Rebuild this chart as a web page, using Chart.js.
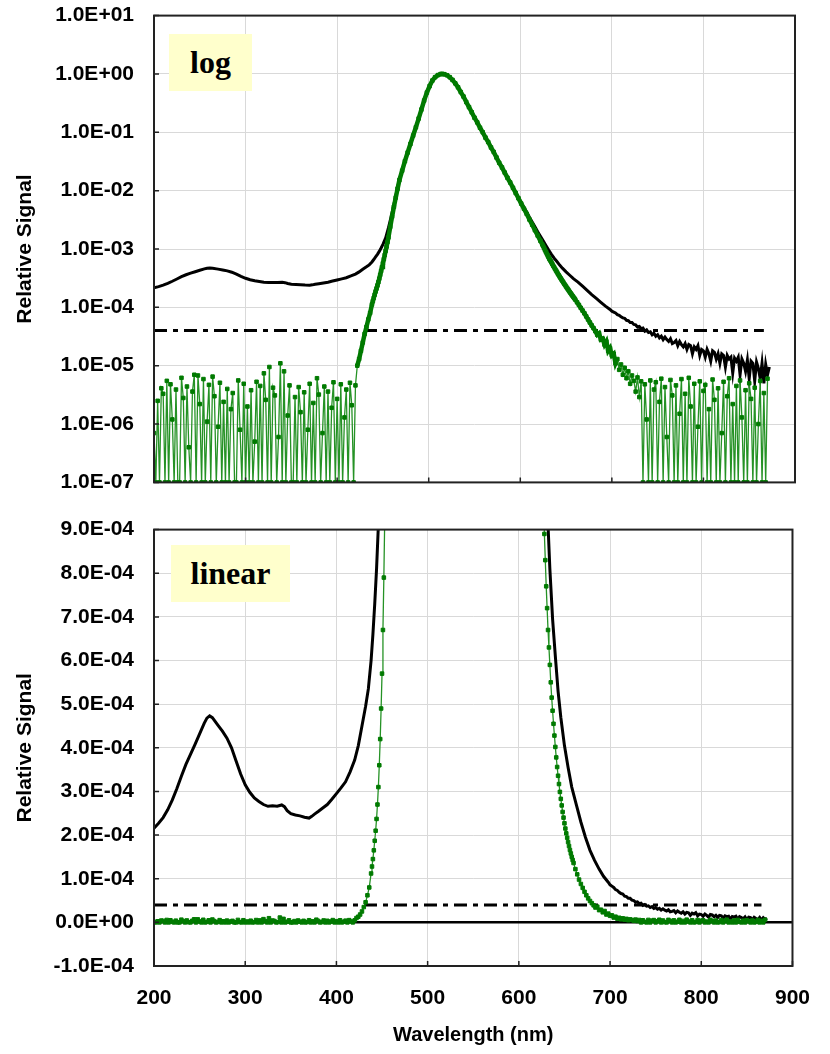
<!DOCTYPE html>
<html>
<head>
<meta charset="utf-8">
<script src="https://cdn.jsdelivr.net/npm/chart.js@4.4.0/dist/chart.umd.min.js"></script>
<style>
  html, body { margin: 0; padding: 0; background: #fff; }
  #wrap { position: relative; width: 830px; height: 1054px; overflow: hidden; }
  canvas { position: absolute; left: 0; }
  #topChart { top: -17px; }
  #botChart { top: 497px; }
  .tag {
    position: absolute; background: #ffffcc; color: #000;
    font: bold 32px "Liberation Serif", "Times New Roman", serif;
    display: flex; align-items: center; justify-content: center;
  }
</style>
</head>
<body>
<div id="wrap">
  <canvas id="topChart" width="830" height="532"></canvas>
  <canvas id="botChart" width="830" height="557"></canvas>
  <div class="tag" style="left:169px;top:34px;width:83px;height:57px;">log</div>
  <div class="tag" style="left:171px;top:545px;width:119px;height:57px;">linear</div>
</div>
<script>
// wavelength axis (nm)
const xTicks = [200, 300, 400, 500, 600, 700, 800, 900];
const logTicks = [1e-7, 1e-6, 1e-5, 1e-4, 1e-3, 1e-2, 1e-1, 1, 10];

// unfiltered signal (black)
const blackWl = [
  200, 205, 210, 215, 220, 225, 230, 235, 240, 245,
  250, 255, 258, 261, 264, 270, 275, 280, 285, 290,
  295, 300, 305, 310, 315, 320, 325, 330, 335, 340,
  343, 346, 350, 355, 360, 365, 370, 373, 376, 380,
  385, 390, 395, 400, 405, 410, 415, 420, 424, 428,
  432, 435, 438, 440, 442, 444, 446, 448, 450, 453,
  456, 459, 462, 465, 468, 471, 474, 477, 480, 483,
  486, 489, 492, 495, 498, 501, 504, 507, 510, 513,
  516, 520, 523, 526, 529, 532, 535, 538, 541, 544,
  547, 550, 553, 556, 559, 562, 565, 568, 571, 574,
  577, 580, 583, 586, 589, 592, 595, 598, 601, 604,
  607, 610, 613, 616, 619, 622, 625, 628, 631, 634,
  637, 640, 643, 646, 650, 654, 658, 663, 668, 673,
  678, 683, 688, 693, 698,
  700, 702, 704, 706, 708, 710, 712, 714, 716, 718,
  720, 722, 724, 726, 728, 730, 732, 734, 736, 738,
  740, 742, 744, 746, 748, 750, 752, 754, 756, 758,
  760, 762, 764, 766, 768, 770, 772, 774, 776, 778,
  780, 782, 784, 786, 788, 790, 792, 794, 796, 798,
  800, 802, 804, 806, 808, 810, 812, 814, 816, 818,
  820, 822, 824, 826, 828, 830, 832, 834, 836, 838,
  840, 842, 844, 846, 848, 850, 852, 854, 856, 858,
  860, 862, 864, 866, 868, 870, 872
];
const blackSig = [
  2.16e-4, 2.27e-4, 2.40e-4, 2.58e-4, 2.80e-4, 3.06e-4, 3.35e-4, 3.62e-4, 3.85e-4, 4.08e-4,
  4.32e-4, 4.56e-4, 4.68e-4, 4.73e-4, 4.69e-4, 4.52e-4, 4.38e-4, 4.22e-4, 4.00e-4, 3.70e-4,
  3.40e-4, 3.15e-4, 2.98e-4, 2.85e-4, 2.77e-4, 2.70e-4, 2.66e-4, 2.67e-4, 2.66e-4, 2.69e-4,
  2.65e-4, 2.56e-4, 2.49e-4, 2.46e-4, 2.44e-4, 2.41e-4, 2.39e-4, 2.43e-4, 2.48e-4, 2.54e-4,
  2.62e-4, 2.70e-4, 2.82e-4, 2.95e-4, 3.08e-4, 3.22e-4, 3.45e-4, 3.72e-4, 4.05e-4, 4.50e-4,
  4.95e-4, 5.35e-4, 6.00e-4, 6.60e-4, 7.30e-4, 8.10e-4, 9.10e-4, 1.04e-3, 1.20e-3, 1.55e-3,
  2.30e-3, 3.60e-3, 5.80e-3, 9.5e-3, 0.0158, 0.0222, 0.0322, 0.0452, 0.0632, 0.0882,
  0.122, 0.172, 0.245, 0.35, 0.48, 0.62, 0.77, 0.88, 0.955, 0.995,
  0.995, 0.95, 0.88, 0.79, 0.69, 0.59, 0.49, 0.41, 0.33, 0.27,
  0.22, 0.178, 0.148, 0.12, 0.1, 0.081, 0.068, 0.055, 0.046, 0.037,
  0.0302, 0.0252, 0.0206, 0.0168, 0.014, 0.0114, 0.0093, 0.0076, 0.0062, 0.0052,
  0.0043, 0.0035, 0.0029, 0.0024, 0.00198, 0.00165, 0.00138, 0.00115, 9.6e-4, 8.1e-4,
  6.95e-4, 6.1e-4, 5.3e-4, 4.7e-4, 4.05e-4, 3.55e-4, 3.1e-4, 2.7e-4, 2.3e-4, 1.95e-4,
  1.65e-4, 1.42e-4, 1.22e-4, 1.05e-4, 9.2e-5,
  8.6e-5, 8.3e-5, 8.0e-5, 7.5e-5, 7.3e-5, 6.9e-5, 6.6e-5, 6.5e-5, 6.0e-5, 5.9e-5,
  5.5e-5, 5.5e-5, 5.1e-5, 5.0e-5, 4.6e-5, 4.7e-5, 4.3e-5, 4.4e-5, 3.9e-5, 4.1e-5,
  3.7e-5, 3.8e-5, 3.4e-5, 3.6e-5, 3.2e-5, 3.4e-5, 3.0e-5, 3.2e-5, 2.8e-5, 3.1e-5,
  2.8e-5, 2.6e-5, 2.9e-5, 2.4e-5, 2.5e-5, 2.7e-5, 2.2e-5, 2.6e-5, 2.3e-5, 2.1e-5,
  2.4e-5, 1.9e-5, 2.3e-5, 2.2e-5, 1.6e-5, 2.1e-5, 1.9e-5, 2.2e-5, 1.5e-5, 1.9e-5,
  1.8e-5, 1.4e-5, 1.9e-5, 1.6e-5, 1.2e-5, 1.8e-5, 1.7e-5, 1.3e-5, 1.6e-5, 1.1e-5,
  1.6e-5, 1.5e-5, 9.5e-6, 1.5e-5, 1.3e-5, 1.4e-5, 7.5e-6, 1.35e-5, 1.2e-5, 1.4e-5,
  7.0e-6, 1.3e-5, 1.1e-5, 8.0e-6, 1.25e-5, 6.0e-6, 1.2e-5, 1.1e-5, 5.5e-6, 1.15e-5,
  9.0e-6, 6.0e-6, 1.1e-5, 5.0e-6, 1.05e-5, 7.0e-6, 9.5e-6
];

// filtered signal (green, with markers)
const greenWl = [
  200, 202, 204, 206, 208, 210, 212, 214, 216, 218,
  220, 222, 224, 226, 228, 230, 232, 234, 236, 238,
  240, 242, 244, 246, 248, 250, 252, 254, 256, 258,
  260, 262, 264, 266, 268, 270, 272, 274, 276, 278,
  280, 282, 284, 286, 288, 290, 292, 294, 296, 298,
  300, 302, 304, 306, 308, 310, 312, 314, 316, 318,
  320, 322, 324, 326, 328, 330, 332, 334, 336, 338,
  340, 342, 344, 346, 348, 350, 352, 354, 356, 358,
  360, 362, 364, 366, 368, 370, 372, 374, 376, 378,
  380, 382, 384, 386, 388, 390, 392, 394, 396, 398,
  400, 402, 404, 406, 408, 410, 412, 414, 416, 418, 420,
  422, 424, 426, 428, 430, 432, 434, 436, 438,
  439, 440, 441, 442, 443, 444, 445, 446, 447, 448,
  449, 450, 451, 452, 453, 454, 455, 456,
  458, 460, 462, 464, 466, 468,
  471, 474, 477, 480, 483, 486, 489, 492, 495, 498, 501, 504, 507, 510, 513,
  515,
  517, 520, 523, 526, 529, 532, 535, 538, 541, 544,
  547, 550, 553, 556, 559, 562, 565, 568, 571, 574,
  577, 580, 583, 586, 589, 592, 595, 598, 601, 604,
  607, 610, 613, 616, 619, 622,
  624,
  625, 626, 627, 628, 629, 630, 631, 632, 633, 634,
  635, 636, 637, 638, 639, 640, 641, 642, 643, 644,
  645, 646, 647, 648, 649, 650, 651, 652, 653, 654,
  655, 656, 657, 658, 659, 660,
  662, 664, 666, 668, 670, 672, 674, 676, 678, 680,
  682, 684, 686, 688, 690, 692, 694, 696, 698, 700,
  702, 704, 706, 708, 710, 712, 714, 716, 718, 720,
  722, 724, 726, 728, 730, 732,
  734, 736, 738, 740, 742, 744, 746, 748, 750, 752,
  754, 756, 758, 760, 762, 764, 766, 768, 770, 772,
  774, 776, 778, 780, 782, 784, 786, 788, 790, 792,
  794, 796, 798, 800, 802, 804, 806, 808, 810, 812,
  814, 816, 818, 820, 822, 824, 826, 828, 830, 832,
  834, 836, 838, 840, 842, 844, 846, 848, 850, 852,
  854, 856, 858, 860, 862, 864, 866, 868, 870
];
const greenSig = [
  0.7e-6, 0, 2.5e-6, 0, 4.1e-6, 3.3e-6, 0, 5.5e-6, 0, 4.8e-6,
  1.2e-6, 0, 3.9e-6, 0, 0, 6.2e-6, 2.8e-6, 0, 4.4e-6, 0.4e-6,
  0, 3.6e-6, 7.0e-6, 0, 6.8e-6, 2.2e-6, 0, 5.9e-6, 0, 1.1e-6,
  4.7e-6, 0, 6.5e-6, 3.0e-6, 0, 0.9e-6, 5.1e-6, 0, 2.4e-6, 0,
  4.0e-6, 0, 1.8e-6, 3.4e-6, 0, 0, 5.6e-6, 0.8e-6, 0, 4.9e-6,
  0, 2.0e-6, 0, 3.8e-6, 0, 0.5e-6, 5.3e-6, 0, 4.5e-6, 0,
  7.4e-6, 2.6e-6, 0, 9.5e-6, 0, 4.2e-6, 3.1e-6, 0, 0.6e-6, 1.1e-5,
  0, 8.0e-6, 0, 1.4e-6, 4.6e-6, 0, 0, 2.9e-6, 0, 4.3e-6,
  1.6e-6, 0, 3.5e-6, 0, 0.8e-6, 4.9e-6, 0, 2.3e-6, 0, 6.1e-6,
  3.2e-6, 0, 0.7e-6, 4.4e-6, 0, 3.6e-6, 0, 1.9e-6, 5.2e-6, 0,
  2.7e-6, 0, 4.8e-6, 0, 1.3e-6, 3.9e-6, 0, 5.1e-6, 2.1e-6, 0, 4.6e-6,
  1.0e-5, 1.3e-5, 1.8e-5, 2.5e-5, 3.5e-5, 4.6e-5, 6.2e-5, 8.0e-5, 1.12e-4,
  1.28e-4, 1.45e-4, 1.65e-4, 1.87e-4, 2.1e-4, 2.37e-4, 2.7e-4, 3.1e-4, 3.6e-4, 4.2e-4,
  4.9e-4, 5.7e-4, 6.7e-4, 7.9e-4, 9.3e-4, 1.1e-3, 1.32e-3, 1.58e-3,
  2.4e-3, 3.6e-3, 5.3e-3, 7.6e-3, 0.0108, 0.0152,
  0.022, 0.032, 0.045, 0.063, 0.088, 0.122, 0.172, 0.245, 0.35, 0.48, 0.62, 0.77, 0.88, 0.955, 0.995,
  1.0,
  0.99, 0.95, 0.88, 0.79, 0.69, 0.59, 0.49, 0.41, 0.33, 0.27,
  0.22, 0.178, 0.148, 0.12, 0.1, 0.081, 0.068, 0.055, 0.046, 0.037,
  0.03, 0.025, 0.0204, 0.0166, 0.0138, 0.0112, 0.0091, 0.0074, 0.006, 0.0049,
  0.004, 0.0032, 0.0026, 0.0021, 0.0017, 0.00138,
  1.2e-3,
  1.12e-3, 1.04e-3, 9.6e-4, 8.9e-4, 8.3e-4, 7.7e-4, 7.2e-4, 6.7e-4, 6.3e-4, 5.9e-4,
  5.5e-4, 5.15e-4, 4.85e-4, 4.55e-4, 4.28e-4, 4.02e-4, 3.78e-4, 3.56e-4, 3.36e-4, 3.17e-4,
  2.99e-4, 2.83e-4, 2.68e-4, 2.53e-4, 2.4e-4, 2.27e-4, 2.15e-4, 2.04e-4, 1.94e-4, 1.84e-4,
  1.75e-4, 1.66e-4, 1.58e-4, 1.5e-4, 1.43e-4, 1.36e-4,
  1.22e-4, 1.1e-4, 9.8e-5, 8.8e-5, 7.9e-5, 7.0e-5, 6.2e-5, 5.5e-5, 4.9e-5, 4.4e-5,
  3.9e-5, 3.4e-5, 3.6e-5, 2.8e-5, 2.9e-5, 2.3e-5, 2.6e-5, 1.8e-5, 2.0e-5, 1.5e-5,
  1.6e-5, 1.1e-5, 1.3e-5, 8.5e-6, 1.05e-5, 7.0e-6, 9.2e-6, 6.1e-6, 8.0e-6, 4.9e-6,
  6.8e-6, 5.5e-6, 3.6e-6, 6.3e-6, 2.9e-6, 5.4e-6,
  0, 4.8e-6, 1.2e-6, 0, 5.6e-6, 0, 3.9e-6, 5.2e-6, 0, 2.4e-6,
  6.0e-6, 0, 4.3e-6, 0.6e-6, 0, 5.7e-6, 3.1e-6, 0, 4.6e-6, 0,
  1.5e-6, 5.9e-6, 0, 3.3e-6, 0, 6.2e-6, 2.0e-6, 0, 4.9e-6, 0,
  0.9e-6, 5.4e-6, 0, 3.7e-6, 4.7e-6, 0, 1.8e-6, 0, 5.8e-6, 2.6e-6,
  0, 4.1e-6, 0, 0.7e-6, 5.3e-6, 0, 3.0e-6, 6.1e-6, 0, 2.2e-6,
  0, 4.5e-6, 0, 5.6e-6, 1.3e-6, 0, 3.8e-6, 0, 5.0e-6, 2.7e-6,
  0, 4.2e-6, 0, 1.0e-6, 5.5e-6, 0, 3.4e-6, 0, 6.0e-6
];

// detection limit (dash-dot)
const limitWl = [200, 866];
const limitSig = [4e-5, 4e-5];

const gridGray = '#d9d9d9';

Chart.defaults.font.family = "'Liberation Sans', Arial, sans-serif";
Chart.defaults.font.size = 21;
Chart.defaults.font.weight = 'bold';
Chart.defaults.color = '#000';

function sci(v) {
  if (Math.abs(v) < 1e-12) return '0.0E+00';
  const parts = Number(v).toExponential(1).split('e');
  const e = parseInt(parts[1], 10);
  return parts[0] + 'E' + (e < 0 ? '-' : '+') + String(Math.abs(e)).padStart(2, '0');
}

function pts(xs, ys) {
  return xs.map((x, i) => ({ x: x, y: ys[i] }));
}

function makeSets(dense) {
  const green = {
    label: 'filtered', data: pts(greenWl, greenSig), order: 1,
    borderColor: '#259225', borderWidth: 1.3,
    pointStyle: 'rect', pointRadius: 2.5, pointBorderWidth: 1,
    pointBackgroundColor: '#007a00', pointBorderColor: '#007a00'
  };
  if (dense) {
    // on the log view the closely spaced markers merge into a band
    green.segment = {
      borderWidth: c => (c.p0.parsed.y > 9e-6 && c.p1.parsed.y > 9e-6) ? 4.5 : undefined,
      borderColor: c => (c.p0.parsed.y > 9e-6 && c.p1.parsed.y > 9e-6) ? '#007a00' : undefined
    };
  }
  return [
    green,
    {
      label: 'unfiltered', data: pts(blackWl, blackSig), order: 2,
      borderColor: '#000', borderWidth: 3, pointRadius: 0
    },
    {
      label: 'limit', data: pts(limitWl, limitSig), order: 3,
      borderColor: '#000', borderWidth: 3, borderDash: [13, 6, 5, 6], pointRadius: 0
    }
  ];
}

// plot frame and inward tick marks
const framePlugin = {
  id: 'frame',
  afterDraw(chart) {
    const a = chart.chartArea, ctx = chart.ctx;
    const xs = chart.scales.x, ys = chart.scales.y;
    ctx.save();
    ctx.strokeStyle = '#222';
    ctx.lineWidth = 1.5;
    ctx.beginPath();
    xs.ticks.forEach(t => {
      const px = xs.getPixelForValue(t.value);
      ctx.moveTo(px, a.bottom);
      ctx.lineTo(px, a.bottom - 5);
    });
    ys.ticks.forEach(t => {
      const py = ys.getPixelForValue(t.value);
      ctx.moveTo(a.left, py);
      ctx.lineTo(a.left + 5, py);
    });
    ctx.stroke();
    ctx.lineWidth = 2;
    ctx.strokeRect(a.left, a.top, a.right - a.left, a.bottom - a.top);
    ctx.restore();
  }
};

const yTitle = { display: true, text: 'Relative Signal', padding: { top: 3, bottom: 0 } };

// top: log scale
new Chart(document.getElementById('topChart'), {
  type: 'line',
  data: { datasets: makeSets(true) },
  options: {
    responsive: false, animation: false, devicePixelRatio: 1, parsing: false,
    layout: { padding: { left: 10, right: 35, top: 0, bottom: 0 } },
    plugins: { legend: { display: false }, tooltip: { enabled: false } },
    scales: {
      x: {
        type: 'linear', min: xTicks[0], max: xTicks[xTicks.length - 1],
        afterBuildTicks(s) { s.ticks = xTicks.map(v => ({ value: v })); },
        ticks: { display: false },
        grid: { color: gridGray, drawTicks: false },
        border: { display: false },
        afterFit(s) { s.height = 0; }
      },
      y: {
        type: 'logarithmic', min: logTicks[0], max: logTicks[logTicks.length - 1],
        afterBuildTicks(s) { s.ticks = logTicks.map(v => ({ value: v })); },
        ticks: { callback: v => sci(v), padding: 20, autoSkip: false },
        grid: { color: gridGray, drawTicks: false },
        border: { display: false },
        title: yTitle,
        afterFit(s) { s.width = 144; }
      }
    }
  },
  plugins: [framePlugin]
});

// bottom: linear scale
new Chart(document.getElementById('botChart'), {
  type: 'line',
  data: { datasets: makeSets(false) },
  options: {
    responsive: false, animation: false, devicePixelRatio: 1, parsing: false,
    layout: { padding: { left: 10, right: 35, top: 0, bottom: 0 } },
    plugins: { legend: { display: false }, tooltip: { enabled: false } },
    scales: {
      x: {
        type: 'linear', min: xTicks[0], max: xTicks[xTicks.length - 1],
        afterBuildTicks(s) { s.ticks = xTicks.map(v => ({ value: v })); },
        ticks: { padding: 20, autoSkip: false, maxRotation: 0 },
        grid: { color: gridGray, drawTicks: false },
        border: { display: false },
        title: { display: true, text: 'Wavelength (nm)', font: { size: 20 }, padding: { top: 0, bottom: 7 } },
        afterFit(s) { s.height = 88; }
      },
      y: {
        type: 'linear', min: -1e-4, max: 9e-4,
        ticks: { stepSize: 1e-4, callback: v => sci(v), padding: 20, autoSkip: false },
        grid: {
          drawTicks: false,
          color: c => (c.tick && Math.abs(c.tick.value) < 1e-12) ? '#000' : gridGray,
          lineWidth: c => (c.tick && Math.abs(c.tick.value) < 1e-12) ? 2.5 : 1
        },
        border: { display: false },
        title: yTitle,
        afterFit(s) { s.width = 144; }
      }
    }
  },
  plugins: [framePlugin]
});
</script>
</body>
</html>
